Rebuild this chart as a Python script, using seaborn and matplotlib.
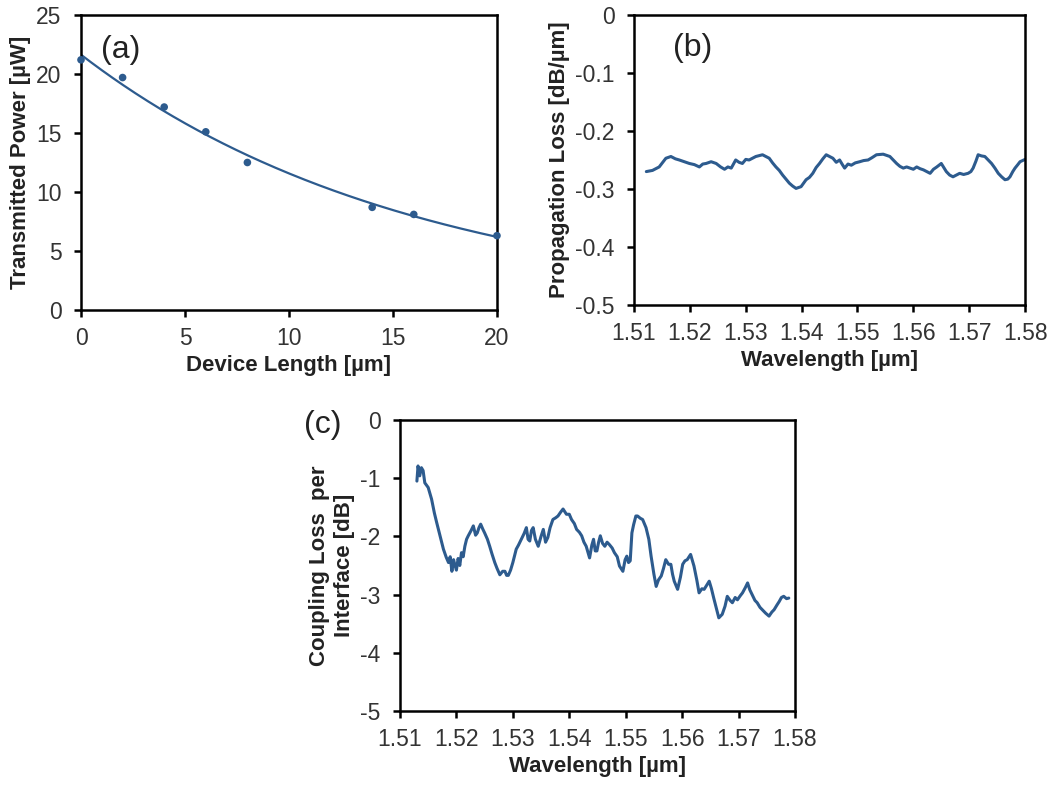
import numpy as np
import pandas as pd
import matplotlib
matplotlib.use("Agg")
import matplotlib.pyplot as plt
import seaborn as sns

# ---------------- data ----------------
# (a) transmitted power vs device length
length_um = [0, 2, 4, 6, 8, 14, 16, 20]
power_uW = [21.2, 19.7, 17.2, 15.1, 12.5, 8.7, 8.1, 6.3]

# (b) propagation loss vs wavelength
wl_b = [1.5122, 1.5133, 1.5145, 1.5157, 1.5166, 1.5174, 1.5181, 1.5190, 1.5199, 1.5208,
        1.5217, 1.5223, 1.5229, 1.5238, 1.5247, 1.5255, 1.5262, 1.5268, 1.5274, 1.5282,
        1.5288, 1.5294, 1.5300, 1.5306, 1.5312, 1.5318, 1.5330, 1.5342, 1.5348, 1.5354,
        1.5360, 1.5366, 1.5372, 1.5378, 1.5384, 1.5390, 1.5399, 1.5408, 1.5414, 1.5420,
        1.5426, 1.5432, 1.5438, 1.5444, 1.5450, 1.5456, 1.5462, 1.5468, 1.5473, 1.5477,
        1.5483, 1.5489, 1.5496, 1.5504, 1.5511, 1.5519, 1.5526, 1.5534, 1.5546, 1.5558,
        1.5564, 1.5570, 1.5576, 1.5582, 1.5588, 1.5594, 1.5600, 1.5606, 1.5612, 1.5618,
        1.5624, 1.5630, 1.5636, 1.5642, 1.5650, 1.5659, 1.5665, 1.5671, 1.5677, 1.5683,
        1.5690, 1.5698, 1.5703, 1.5707, 1.5712, 1.5716, 1.5722, 1.5728, 1.5734, 1.5740,
        1.5746, 1.5752, 1.5758, 1.5764, 1.5769, 1.5773, 1.5778, 1.5782, 1.5787, 1.5791,
        1.5800]
loss_b = [-0.270, -0.268, -0.262, -0.247, -0.244, -0.248, -0.250, -0.253, -0.256, -0.258,
          -0.262, -0.257, -0.256, -0.253, -0.256, -0.262, -0.266, -0.262, -0.264, -0.250,
          -0.254, -0.256, -0.249, -0.250, -0.247, -0.244, -0.241, -0.247, -0.255, -0.262,
          -0.268, -0.276, -0.283, -0.290, -0.295, -0.299, -0.296, -0.284, -0.280, -0.273,
          -0.263, -0.256, -0.248, -0.241, -0.244, -0.247, -0.254, -0.250, -0.258, -0.264,
          -0.257, -0.259, -0.255, -0.253, -0.251, -0.250, -0.246, -0.241, -0.240, -0.244,
          -0.250, -0.256, -0.261, -0.264, -0.262, -0.264, -0.266, -0.262, -0.265, -0.267,
          -0.270, -0.273, -0.266, -0.262, -0.256, -0.270, -0.276, -0.279, -0.276, -0.273,
          -0.275, -0.273, -0.270, -0.264, -0.252, -0.241, -0.243, -0.244, -0.250, -0.256,
          -0.264, -0.273, -0.279, -0.284, -0.283, -0.279, -0.270, -0.264, -0.258, -0.253,
          -0.249]

# (c) coupling loss per interface vs wavelength
wl_c = [1.5130, 1.5132, 1.5135, 1.5138, 1.5141, 1.5144, 1.5150, 1.5156, 1.5161, 1.5165,
        1.5171, 1.5177, 1.5182, 1.5186, 1.5189, 1.5192, 1.5195, 1.5197, 1.5200, 1.5203,
        1.5206, 1.5209, 1.5212, 1.5215, 1.5218, 1.5221, 1.5226, 1.5230, 1.5234, 1.5237,
        1.5240, 1.5243, 1.5247, 1.5250, 1.5255, 1.5259, 1.5263, 1.5268, 1.5272, 1.5277,
        1.5282, 1.5286, 1.5289, 1.5292, 1.5296, 1.5300, 1.5306, 1.5310, 1.5315, 1.5320,
        1.5324, 1.5327, 1.5330, 1.5333, 1.5336, 1.5340, 1.5345, 1.5350, 1.5354, 1.5358,
        1.5362, 1.5366, 1.5371, 1.5376, 1.5380, 1.5385, 1.5389, 1.5395, 1.5400, 1.5404,
        1.5409, 1.5413, 1.5418, 1.5422, 1.5426, 1.5430, 1.5436, 1.5440, 1.5443, 1.5446,
        1.5449, 1.5452, 1.5455, 1.5459, 1.5463, 1.5467, 1.5471, 1.5476, 1.5480, 1.5485,
        1.5489, 1.5495, 1.5499, 1.5502, 1.5505, 1.5508, 1.5511, 1.5514, 1.5518, 1.5521,
        1.5526, 1.5530, 1.5536, 1.5541, 1.5545, 1.5550, 1.5554, 1.5558, 1.5563, 1.5567,
        1.5571, 1.5576, 1.5580, 1.5583, 1.5586, 1.5592, 1.5597, 1.5601, 1.5605, 1.5609,
        1.5615, 1.5621, 1.5626, 1.5630, 1.5635, 1.5639, 1.5648, 1.5652, 1.5656, 1.5661,
        1.5665, 1.5671, 1.5676, 1.5680, 1.5685, 1.5689, 1.5694, 1.5698, 1.5703, 1.5707,
        1.5712, 1.5716, 1.5720, 1.5724, 1.5729, 1.5733, 1.5738, 1.5742, 1.5748, 1.5754,
        1.5759, 1.5763, 1.5768, 1.5772, 1.5776, 1.5780, 1.5785, 1.5789]
loss_c = [-1.05, -0.79, -0.96, -0.82, -0.87, -1.08, -1.16, -1.36, -1.60, -1.76,
          -1.99, -2.22, -2.36, -2.45, -2.35, -2.60, -2.40, -2.48, -2.58, -2.38,
          -2.50, -2.28, -2.35, -2.17, -2.05, -1.99, -1.90, -1.82, -1.98, -1.94,
          -1.85, -1.79, -1.88, -1.94, -2.05, -2.17, -2.30, -2.45, -2.55, -2.66,
          -2.60, -2.60, -2.67, -2.67, -2.58, -2.45, -2.22, -2.15, -2.05, -1.95,
          -1.85, -2.05, -2.08, -1.90, -1.85, -2.05, -2.17, -2.00, -1.88, -2.10,
          -2.02, -1.85, -1.71, -1.68, -1.65, -1.58, -1.53, -1.62, -1.62, -1.71,
          -1.78, -1.88, -1.93, -1.99, -2.10, -2.17, -2.37, -2.15, -2.05, -2.25,
          -2.25, -2.10, -1.99, -2.12, -2.17, -2.10, -2.14, -2.20, -2.28, -2.35,
          -2.51, -2.60, -2.40, -2.34, -2.45, -2.42, -1.94, -1.80, -1.65, -1.65,
          -1.69, -1.71, -1.85, -2.05, -2.34, -2.65, -2.86, -2.75, -2.68, -2.55,
          -2.40, -2.48, -2.48, -2.65, -2.77, -2.91, -2.70, -2.48, -2.42, -2.40,
          -2.31, -2.51, -2.75, -2.97, -2.90, -2.91, -2.77, -2.90, -3.06, -3.25,
          -3.40, -3.34, -3.20, -3.03, -3.10, -3.14, -3.05, -3.09, -3.02, -2.97,
          -2.88, -2.80, -2.92, -3.00, -3.10, -3.14, -3.22, -3.26, -3.32, -3.37,
          -3.30, -3.26, -3.18, -3.12, -3.05, -3.03, -3.07, -3.06]

# ---------------- style ----------------
sns.set_theme(style="ticks")
plt.rcParams["font.family"] = ["Liberation Sans", "DejaVu Sans"]
plt.rcParams.update({
    "axes.linewidth": 1.8,
    "axes.edgecolor": "black",
    "xtick.major.width": 1.8,
    "ytick.major.width": 1.8,
    "xtick.major.size": 5,
    "ytick.major.size": 5,
    "xtick.major.pad": 7,
    "ytick.major.pad": 9,
    "xtick.direction": "out",
    "ytick.direction": "out",
    "xtick.labelsize": 16.5,
    "ytick.labelsize": 16.5,
    "xtick.color": "black",
    "ytick.color": "black",
    "xtick.labelcolor": "#333333",
    "ytick.labelcolor": "#333333",
    "axes.labelpad": 4,
})
LINE = "#2D5B8E"
LABEL_KW = dict(fontsize=16, fontweight="bold", color="#222222")

fig = plt.figure(figsize=(10.52, 7.85), dpi=100)
ax_a = fig.add_axes([0.077, 0.6051, 0.3954, 0.3758])
ax_b = fig.add_axes([0.6027, 0.6115, 0.3717, 0.3694])
ax_c = fig.add_axes([0.3802, 0.0943, 0.3755, 0.3707])

# ---- (a) ----
df_a = pd.DataFrame({"L": length_um, "P": power_uW})
coef = np.polyfit(df_a["L"], np.log(df_a["P"]), 1)
fit_x = np.linspace(0, 20, 200)
df_fit = pd.DataFrame({"L": fit_x, "P": np.exp(np.polyval(coef, fit_x))})
sns.lineplot(data=df_fit, x="L", y="P", ax=ax_a, color=LINE, lw=1.6)
sns.scatterplot(data=df_a, x="L", y="P", ax=ax_a, color=LINE, s=30,
                edgecolor="none", zorder=5, clip_on=False)
ax_a.set_xlim(0, 20)
ax_a.set_ylim(0, 25)
ax_a.set_xticks([0, 5, 10, 15, 20])
ax_a.set_yticks([0, 5, 10, 15, 20, 25])
ax_a.set_xlabel("Device Length [µm]", **LABEL_KW)
ax_a.set_ylabel("Transmitted Power [µW]", **LABEL_KW)
ax_a.text(1.9, 22.0, "(a)", fontsize=23, ha="center", va="center", color="#222222")

# ---- (b) ----
df_b = pd.DataFrame({"wl": wl_b, "loss": loss_b})
sns.lineplot(data=df_b, x="wl", y="loss", ax=ax_b, color=LINE, lw=2.2,
             sort=False, estimator=None)
ax_b.set_xlim(1.51, 1.58)
ax_b.set_ylim(-0.5, 0)
ax_b.set_xticks(np.round(np.arange(1.51, 1.5801, 0.01), 2))
ax_b.set_xticklabels(["1.51", "1.52", "1.53", "1.54", "1.55", "1.56", "1.57", "1.58"])
ax_b.set_yticks([0, -0.1, -0.2, -0.3, -0.4, -0.5])
ax_b.set_yticklabels(["0", "-0.1", "-0.2", "-0.3", "-0.4", "-0.5"])
ax_b.set_xlabel("Wavelength [µm]", **LABEL_KW)
ax_b.set_ylabel("Propagation Loss [dB/µm]", **LABEL_KW)
ax_b.text(1.5204, -0.057, "(b)", fontsize=23, ha="center", va="center", color="#222222")

# ---- (c) ----
df_c = pd.DataFrame({"wl": wl_c, "loss": loss_c})
sns.lineplot(data=df_c, x="wl", y="loss", ax=ax_c, color=LINE, lw=2.2,
             sort=False, estimator=None)
ax_c.set_xlim(1.51, 1.58)
ax_c.set_ylim(-5, 0)
ax_c.set_xticks(np.round(np.arange(1.51, 1.5801, 0.01), 2))
ax_c.set_xticklabels(["1.51", "1.52", "1.53", "1.54", "1.55", "1.56", "1.57", "1.58"])
ax_c.set_yticks([0, -1, -2, -3, -4, -5])
ax_c.set_yticklabels(["0", "-1", "-2", "-3", "-4", "-5"])
ax_c.set_xlabel("Wavelength [µm]", **LABEL_KW)
ax_c.set_ylabel("Coupling Loss  per\nInterface [dB]", linespacing=1.25, **LABEL_KW)
fig.text(0.307, 0.4586, "(c)", fontsize=23, ha="center", va="center", color="#222222")

for ax in (ax_a, ax_b, ax_c):
    for s in ax.spines.values():
        s.set_visible(True)
        s.set_color("black")

fig.savefig("out.png", dpi=100, facecolor="white")
